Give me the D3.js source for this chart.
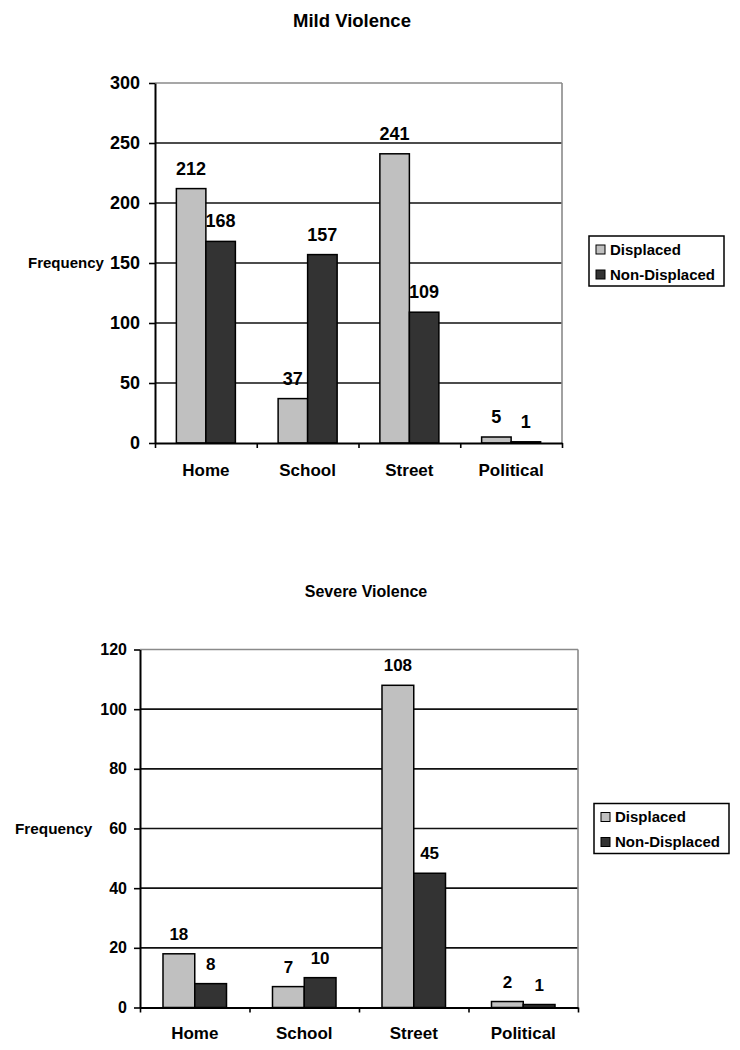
<!DOCTYPE html>
<html>
<head>
<meta charset="utf-8">
<script src="https://cdn.jsdelivr.net/npm/d3@7"></script>
<style>
  body { margin: 0; background: #fff; }
  svg { display: block; font-family: "Liberation Sans", Arial, sans-serif; font-weight: bold; }
</style>
</head>
<body>
<svg id="chart" width="740" height="1050"></svg>
<script>
const categories = ["Home", "School", "Street", "Political"];
const series = ["Displaced", "Non-Displaced"];

const mildDisplaced = [212, 37, 241, 5];
const mildNonDisplaced = [168, 157, 109, 1];
const mildTicks = [0, 50, 100, 150, 200, 250, 300];

const severeDisplaced = [18, 7, 108, 2];
const severeNonDisplaced = [8, 10, 45, 1];
const severeTicks = [0, 20, 40, 60, 80, 100, 120];

const COLORS = ["#c0c0c0", "#333333"];
const GRID_COLOR = "#111";
const BORDER_COLOR = "#8a8a8a";

const svg = d3.select("#chart");

function drawChart(cfg) {
  const g = svg.append("g");
  const rows = categories.map((c, i) => ({ cat: c, values: cfg.values.map(v => v[i]) }));

  const x0 = d3.scaleBand()
    .domain(categories)
    .range([cfg.left, cfg.right])
    .paddingInner(0.42)
    .paddingOuter(0.21);
  const x1 = d3.scaleBand()
    .domain(series)
    .range([0, x0.bandwidth()]);
  const y = d3.scaleLinear()
    .domain([0, d3.max(cfg.ticks)])
    .range([cfg.bottom, cfg.top]);
  const xb = d3.scaleLinear().domain([0, categories.length]).range([cfg.left, cfg.right]);

  // title
  g.append("text")
    .attr("x", cfg.titleX)
    .attr("y", cfg.titleY)
    .attr("text-anchor", "middle")
    .style("font-size", cfg.titleSize + "px")
    .text(cfg.title);

  // grid lines (top one is the grey frame)
  g.append("g")
    .selectAll("line")
    .data(cfg.ticks.filter(t => t > 0))
    .join("line")
    .attr("x1", cfg.left)
    .attr("x2", cfg.right)
    .attr("y1", d => y(d))
    .attr("y2", d => y(d))
    .attr("stroke", d => d === d3.max(cfg.ticks) ? BORDER_COLOR : GRID_COLOR)
    .attr("stroke-width", 1.6);

  g.append("line")
    .attr("x1", cfg.right).attr("x2", cfg.right)
    .attr("y1", cfg.top).attr("y2", cfg.bottom)
    .attr("stroke", BORDER_COLOR)
    .attr("stroke-width", 1.6);

  // bars
  const grp = g.append("g")
    .selectAll("g")
    .data(rows)
    .join("g")
    .attr("transform", d => `translate(${x0(d.cat)},0)`);

  grp.selectAll("rect")
    .data(d => d.values.map((v, i) => ({ key: series[i], value: v, i })))
    .join("rect")
    .attr("x", d => x1(d.key))
    .attr("y", d => y(d.value))
    .attr("width", x1.bandwidth())
    .attr("height", d => y(0) - y(d.value))
    .attr("fill", d => COLORS[d.i])
    .attr("stroke", "#000")
    .attr("stroke-width", 1.5);

  grp.selectAll("text")
    .data(d => d.values.map((v, i) => ({ key: series[i], value: v })))
    .join("text")
    .attr("x", d => x1(d.key) + x1.bandwidth() / 2)
    .attr("y", d => y(d.value) - 14)
    .attr("text-anchor", "middle")
    .style("font-size", cfg.valueSize + "px")
    .text(d => d.value);

  // y axis
  const yAxis = g.append("g")
    .attr("transform", `translate(${cfg.left},0)`)
    .call(d3.axisLeft(y).tickValues(cfg.ticks).tickSize(6).tickSizeOuter(0).tickPadding(cfg.tickPad));
  yAxis.select(".domain").attr("stroke", "#000").attr("stroke-width", 2);
  yAxis.selectAll(".tick line").attr("stroke", "#000").attr("stroke-width", 1.6);
  yAxis.selectAll(".tick text")
    .attr("fill", "#000")
    .style("font-family", "inherit")
    .style("font-size", cfg.tickSize + "px");

  // x axis with ticks between categories
  const xAxis = g.append("g")
    .attr("transform", `translate(0,${cfg.bottom})`)
    .call(d3.axisBottom(xb).tickValues(d3.range(categories.length + 1)).tickFormat("").tickSize(5).tickSizeOuter(0));
  xAxis.select(".domain").attr("stroke", "#000").attr("stroke-width", 2);
  xAxis.selectAll(".tick line").attr("stroke", "#000").attr("stroke-width", 1.6);

  g.append("g")
    .selectAll("text")
    .data(categories)
    .join("text")
    .attr("x", d => x0(d) + x0.bandwidth() / 2)
    .attr("y", cfg.catY)
    .attr("text-anchor", "middle")
    .style("font-size", cfg.catSize + "px")
    .text(d => d);

  // axis label
  g.append("text")
    .attr("x", cfg.labelX)
    .attr("y", y(cfg.labelAt))
    .attr("dy", "0.35em")
    .style("font-size", cfg.labelSize + "px")
    .text("Frequency");

  // legend
  const lg = g.append("g").attr("transform", `translate(${cfg.legendX},${cfg.legendY})`);
  lg.append("rect")
    .attr("width", cfg.legendW)
    .attr("height", cfg.legendH)
    .attr("fill", "#fff")
    .attr("stroke", "#000")
    .attr("stroke-width", 1.5);
  const item = lg.selectAll("g")
    .data(series)
    .join("g")
    .attr("transform", (d, i) => `translate(7,${13.5 + i * 25})`);
  item.append("rect")
    .attr("x", 0)
    .attr("y", -4.5)
    .attr("width", 9)
    .attr("height", 9)
    .attr("fill", (d, i) => COLORS[i])
    .attr("stroke", "#000")
    .attr("stroke-width", 1);
  item.append("text")
    .attr("x", 14)
    .attr("dy", "0.36em")
    .style("font-size", "15px")
    .text(d => d);
}

drawChart({
  title: "Mild Violence", titleX: 352, titleY: 27, titleSize: 18.5,
  values: [mildDisplaced, mildNonDisplaced], ticks: mildTicks,
  left: 155, right: 562, top: 83, bottom: 443,
  tickSize: 18, tickPad: 9, valueSize: 18, catSize: 17, catY: 476,
  labelX: 28, labelAt: 150, labelSize: 15,
  legendX: 589, legendY: 236, legendW: 135, legendH: 50
});

drawChart({
  title: "Severe Violence", titleX: 366, titleY: 597, titleSize: 16,
  values: [severeDisplaced, severeNonDisplaced], ticks: severeTicks,
  left: 140, right: 578, top: 649.5, bottom: 1007.5,
  tickSize: 16, tickPad: 7, valueSize: 17, catSize: 17, catY: 1039,
  labelX: 15, labelAt: 60, labelSize: 15.3,
  legendX: 594, legendY: 803.5, legendW: 135, legendH: 50
});
</script>
</body>
</html>
